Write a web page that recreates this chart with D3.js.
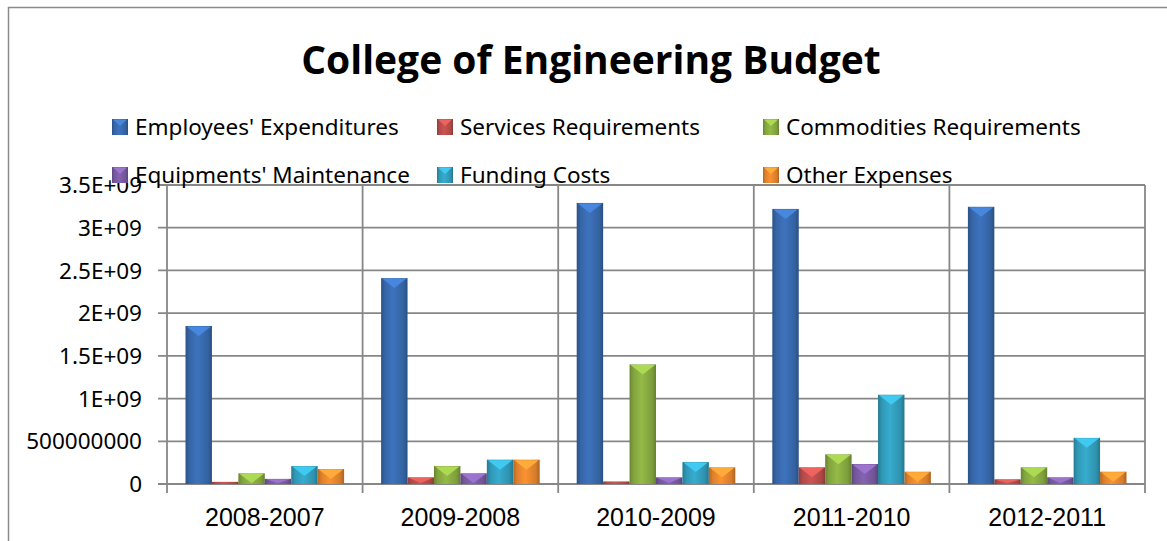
<!DOCTYPE html>
<html>
<head>
<meta charset="utf-8">
<script src="https://cdn.jsdelivr.net/npm/d3@7"></script>
<style>
  body { margin: 0; background: #fff; }
  svg { display: block; }
</style>
</head>
<body>
<svg id="chart"></svg>
<script>
// chart data
const categories = ["2008-2007", "2009-2008", "2010-2009", "2011-2010", "2012-2011"];
const seriesNames = ["Employees' Expenditures", "Services Requirements", "Commodities Requirements",
                     "Equipments' Maintenance", "Funding Costs", "Other Expenses"];
const employees   = [1.85e9, 2.41e9, 3.29e9, 3.22e9, 3.245e9];
const services    = [2.5e7, 7.8e7, 3.0e7, 1.95e8, 5.5e7];
const commodities = [1.25e8, 2.1e8, 1.4e9, 3.47e8, 1.95e8];
const equipments  = [6.0e7, 1.25e8, 7.8e7, 2.34e8, 7.8e7];
const funding     = [2.1e8, 2.85e8, 2.57e8, 1.045e9, 5.4e8];
const other       = [1.75e8, 2.85e8, 1.95e8, 1.44e8, 1.44e8];
const tickValues  = [0, 5e8, 1e9, 1.5e9, 2e9, 2.5e9, 3e9, 3.5e9];
const tickLabels  = ["0", "500000000", "1E+09", "1.5E+09", "2E+09", "2.5E+09", "3E+09", "3.5E+09"];
const colors = ["#3a6db3", "#c0504d", "#8cb043", "#7e5ea8", "#34a3c3", "#ee8a2f"];

const allSeries = [employees, services, commodities, equipments, funding, other];

var svgWidth = 1167, svgHeight = 541;
var margin = { top: 185, right: 22, bottom: 57, left: 167 },
    width = svgWidth - margin.left - margin.right,
    height = svgHeight - margin.top - margin.bottom;

var svg = d3.select('#chart').attr("width", svgWidth).attr("height", svgHeight);

// chart border (only left/top visible in the crop)
svg.append("rect").attr("x", 8.5).attr("y", 7.5).attr("width", 1180).attr("height", 560)
    .attr("fill", "none").attr("stroke", "#8a8a8a").attr("stroke-width", 1.5);

svg.append("text")
    .attr("x", 591).attr("y", 74)
    .attr("text-anchor", "middle")
    .style("font-family", "'Open Sans', 'Noto Sans', sans-serif")
    .style("font-weight", "bold")
    .style("font-size", "39px")
    .text("College of Engineering Budget");

// gradients for the bevelled bars
var defs = svg.append("defs");
colors.forEach((c, i) => {
    let grad = defs.append("linearGradient").attr("id", "grad" + i)
        .attr("x1", "0%").attr("x2", "100%").attr("y1", "0%").attr("y2", "0%");
    let base = d3.color(c);
    grad.append("stop").attr("offset", "0%").attr("stop-color", base.darker(0.8));
    grad.append("stop").attr("offset", "15%").attr("stop-color", base.darker(0.2));
    grad.append("stop").attr("offset", "45%").attr("stop-color", base.brighter(0.15));
    grad.append("stop").attr("offset", "85%").attr("stop-color", base.darker(0.3));
    grad.append("stop").attr("offset", "100%").attr("stop-color", base.darker(0.9));
});

var g = svg.append("g").attr("transform", "translate(" + margin.left + "," + margin.top + ")");

var x0 = d3.scaleBand().domain(categories).range([0, width]).padding(0);
var x1 = d3.scaleBand().domain(d3.range(seriesNames.length)).range([0, x0.bandwidth()])
    .paddingInner(0).paddingOuter(0.7);
var y = d3.scaleLinear().domain([0, 3.5e9]).range([height, 0]);

var gridColor = "#878787";

// horizontal gridlines + tick marks
g.append("g").selectAll("line").data(tickValues).join("line")
    .attr("x1", -9).attr("x2", width)
    .attr("y1", d => y(d)).attr("y2", d => y(d))
    .attr("stroke", gridColor).attr("stroke-width", 1.8);

// vertical category lines
var bounds = categories.map(c => x0(c)).concat([width]);
g.append("g").selectAll("line").data(bounds).join("line")
    .attr("x1", d => d).attr("x2", d => d)
    .attr("y1", 0).attr("y2", height + 9)
    .attr("stroke", gridColor).attr("stroke-width", 1.8);

// y tick labels
g.append("g").selectAll("text").data(tickValues).join("text")
    .attr("x", -25).attr("y", d => y(d)).attr("dy", "0.36em")
    .attr("text-anchor", "end")
    .style("font-family", "'Noto Sans', sans-serif")
    .style("font-size", "22.5px")
    .text((d, i) => tickLabels[i]);

// x labels
g.append("g").selectAll("text").data(categories).join("text")
    .attr("x", d => x0(d) + x0.bandwidth() / 2).attr("y", height + 42)
    .attr("text-anchor", "middle")
    .style("font-family", "'Liberation Sans', Arial, sans-serif")
    .style("font-size", "25px")
    .text(d => d);

// bars
categories.forEach((cat, ci) => {
    let grp = g.append("g").attr("transform", "translate(" + x0(cat) + ",0)");
    allSeries.forEach((vals, si) => {
        let bx = x1(si), bw = x1.bandwidth();
        let top = y(vals[ci]), h = height - top;
        grp.append("rect")
            .attr("x", bx).attr("y", top).attr("width", bw).attr("height", h)
            .attr("fill", "url(#grad" + si + ")");
        if (h > 3) {
            let bh = Math.min(10, h - 1);
            grp.append("path")
                .attr("d", `M${bx + 1},${top + 0.5} L${bx + bw - 1},${top + 0.5} L${bx + bw / 2},${top + bh} Z`)
                .attr("fill", d3.color(colors[si]).brighter(0.6));
        }
    });
});

// legend
var legendX = [112, 437, 763], legendY = [135, 183];
seriesNames.forEach((name, i) => {
    let lx = legendX[i % 3], ly = legendY[Math.floor(i / 3)];
    svg.append("rect").attr("x", lx).attr("y", ly - 16).attr("width", 16).attr("height", 16)
        .attr("fill", "url(#grad" + i + ")");
    svg.append("path")
        .attr("d", `M${lx + 1},${ly - 15.5} L${lx + 15},${ly - 15.5} L${lx + 8},${ly - 9} Z`)
        .attr("fill", d3.color(colors[i]).brighter(0.6));
    svg.append("text").attr("x", lx + 23).attr("y", ly)
        .style("font-family", "'Noto Sans', sans-serif")
        .style("font-size", "22.5px")
        .text(name);
});
</script>
</body>
</html>
